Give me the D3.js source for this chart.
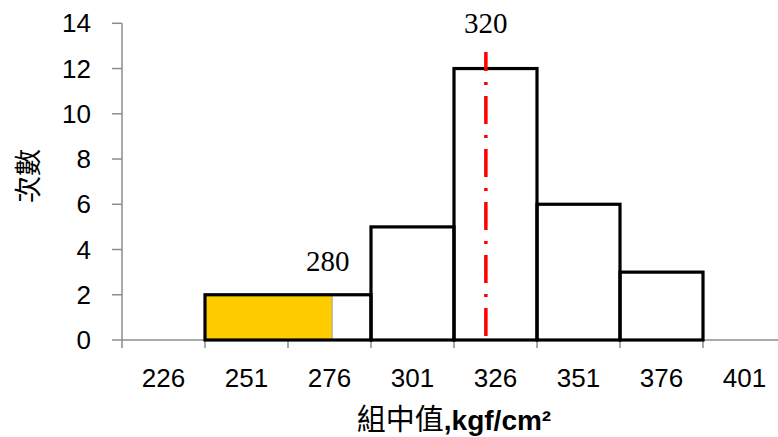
<!DOCTYPE html>
<html>
<head>
<meta charset="utf-8">
<script src="https://cdn.jsdelivr.net/npm/d3@7"></script>
<style>
  html, body { margin: 0; padding: 0; background: #fff; }
  svg { display: block; }
</style>
</head>
<body>
<svg id="chart" width="778" height="437"></svg>
<script>
// ---- data ----
const categories = ["226", "251", "276", "301", "326", "351", "376", "401"];
const counts = [0, 2, 2, 5, 12, 6, 3, 0];
const yTicks = [0, 2, 4, 6, 8, 10, 12, 14];
const binWidth = 25;
const highlightRange = [238.5, 276.8];   // shaded part of the distribution
const highlightLabel = "280";
const highlightLabelValue = 275.5;
const meanValue = 323.1;
const meanLabel = "320";
const xTitleCJK = "組中值";
const xTitleUnit = ",kgf/cm²";
const yTitle = "次數";

// ---- layout ----
const svg = d3.select("#chart");
const plotLeft = 122, plotBottom = 340, plotTop = 23.3;
const bandW = 83;
const x = d3.scaleBand().domain(categories)
  .range([plotLeft, plotLeft + bandW * categories.length]).padding(0);
const y = d3.scaleLinear().domain([0, 14]).range([plotBottom, plotTop]);
const firstCenter = +categories[0];
const xv = d3.scaleLinear()
  .domain([firstCenter - binWidth / 2, firstCenter - binWidth / 2 + binWidth * categories.length])
  .range(x.range());

// ---- axes ----
const axisColor = "#8c8c8c";
// y axis
svg.append("line").attr("x1", plotLeft).attr("x2", plotLeft)
  .attr("y1", y(14)).attr("y2", y(0))
  .attr("stroke", axisColor).attr("stroke-width", 1.5);
svg.selectAll(".ytick").data(yTicks).join("line")
  .attr("x1", plotLeft - 10).attr("x2", plotLeft)
  .attr("y1", d => y(d)).attr("y2", d => y(d))
  .attr("stroke", axisColor).attr("stroke-width", 1.5);
svg.selectAll(".ylab").data(yTicks).join("text")
  .attr("x", 91).attr("y", d => y(d))
  .attr("dy", "0.35em")
  .attr("text-anchor", "end")
  .attr("font-family", "Liberation Sans, Arial, sans-serif")
  .attr("font-size", 26).attr("fill", "#000")
  .text(d => d);

// x axis
svg.append("line").attr("x1", plotLeft).attr("x2", x.range()[1])
  .attr("y1", plotBottom).attr("y2", plotBottom)
  .attr("stroke", axisColor).attr("stroke-width", 1.5);
const bounds = categories.map(c => x(c)).concat([x.range()[1]]);
svg.selectAll(".xtick").data(bounds).join("line")
  .attr("x1", d => d).attr("x2", d => d)
  .attr("y1", plotBottom).attr("y2", plotBottom + 8)
  .attr("stroke", axisColor).attr("stroke-width", 1.5);
svg.selectAll(".xlab").data(categories).join("text")
  .attr("x", d => x(d) + x.bandwidth() / 2)
  .attr("y", 378).attr("dy", "0.35em")
  .attr("text-anchor", "middle")
  .attr("font-family", "Liberation Sans, Arial, sans-serif")
  .attr("font-size", 26).attr("fill", "#000")
  .text(d => d);

// ---- highlight fill ----
svg.append("rect")
  .attr("x", xv(highlightRange[0]))
  .attr("width", xv(highlightRange[1]) - xv(highlightRange[0]))
  .attr("y", y(counts[1])).attr("height", y(0) - y(counts[1]))
  .attr("fill", "#FFCC00");
svg.append("line")
  .attr("x1", xv(highlightRange[1])).attr("x2", xv(highlightRange[1]))
  .attr("y1", y(counts[1])).attr("y2", y(0))
  .attr("stroke", "#a0a0a0").attr("stroke-width", 1);

// ---- bars (adjacent equal-height bins merged, as in the original) ----
const runs = [];
counts.forEach((c, i) => {
  if (c <= 0) return;
  const last = runs[runs.length - 1];
  if (last && last.end === i - 1 && last.h === c) last.end = i;
  else runs.push({ start: i, end: i, h: c });
});
svg.selectAll(".bar").data(runs).join("rect")
  .attr("x", d => x(categories[d.start]))
  .attr("width", d => x(categories[d.end]) + x.bandwidth() - x(categories[d.start]))
  .attr("y", d => y(d.h))
  .attr("height", d => y(0) - y(d.h))
  .attr("fill", "none").attr("stroke", "#000").attr("stroke-width", 3.2)
  .attr("stroke-linejoin", "miter");

// ---- mean line ----
svg.append("line")
  .attr("x1", xv(meanValue)).attr("x2", xv(meanValue))
  .attr("y1", 52).attr("y2", 336)
  .attr("stroke", "#FF0000").attr("stroke-width", 3.5)
  .attr("stroke-dasharray", "28,11,3,11").attr("stroke-dashoffset", 9);

// ---- annotations ----
svg.append("text")
  .attr("x", xv(meanValue)).attr("y", 33)
  .attr("text-anchor", "middle")
  .attr("font-family", "Liberation Serif, Times New Roman, serif")
  .attr("font-size", 29).attr("fill", "#000")
  .text(meanLabel);
svg.append("text")
  .attr("x", xv(highlightLabelValue)).attr("y", 271)
  .attr("text-anchor", "middle")
  .attr("font-family", "Liberation Serif, Times New Roman, serif")
  .attr("font-size", 29).attr("fill", "#000")
  .text(highlightLabel);

// ---- titles ----
const xt = svg.append("text")
  .attr("x", 454).attr("y", 430)
  .attr("text-anchor", "middle").attr("fill", "#000");
xt.append("tspan")
  .attr("font-family", "Noto Sans CJK TC, Noto Sans CJK SC, sans-serif")
  .attr("font-size", 29)
  .text(xTitleCJK);
xt.append("tspan")
  .attr("font-family", "Liberation Sans, Arial, sans-serif")
  .attr("font-weight", "bold")
  .attr("font-size", 28)
  .text(xTitleUnit);

svg.append("text")
  .attr("transform", "translate(29,176) rotate(-90)")
  .attr("text-anchor", "middle").attr("dy", "0.35em")
  .attr("font-family", "Noto Sans CJK TC, Noto Sans CJK SC, sans-serif")
  .attr("font-size", 27).attr("fill", "#000")
  .text(yTitle);
</script>
</body>
</html>
